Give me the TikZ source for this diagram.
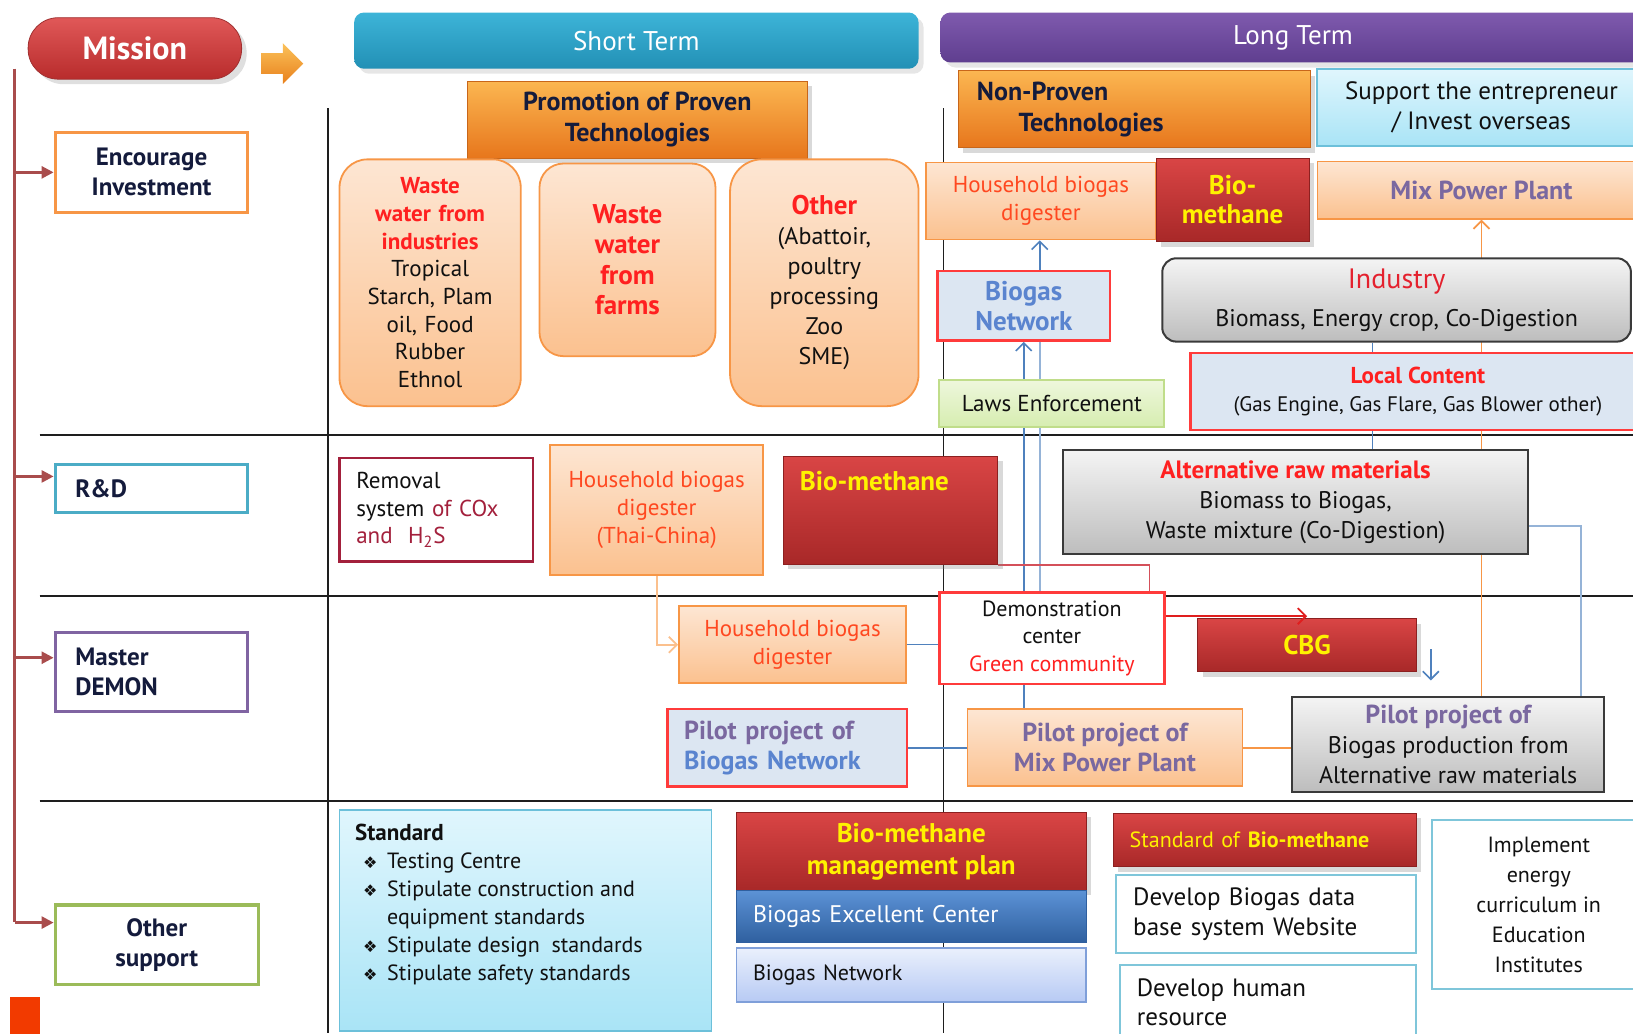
\documentclass[tikz,border=0pt]{standalone}
\usepackage{fontspec}
\setmainfont{PT Sans}
\newfontfamily\dingfont{DejaVu Sans}
\usetikzlibrary{backgrounds,arrows.meta,shapes.arrows,shadows}

\definecolor{pilltop}{HTML}{E05858}
\definecolor{pillbot}{HTML}{B82C2C}
\definecolor{pillline}{HTML}{A03030}
\definecolor{arrtop}{HTML}{FBC25A}
\definecolor{arrbot}{HTML}{E8801C}
\definecolor{tealtop}{HTML}{3DB4D8}
\definecolor{tealbot}{HTML}{2290B5}
\definecolor{purtop}{HTML}{7F5AAE}
\definecolor{purbot}{HTML}{5F3E8F}
\definecolor{hdtop}{HTML}{FBB651}
\definecolor{hdbot}{HTML}{E7761C}
\definecolor{hdline}{HTML}{C8661A}
\definecolor{peachtop}{HTML}{FDE6D3}
\definecolor{peachbot}{HTML}{FBC18F}
\definecolor{peachline}{HTML}{F79646}
\definecolor{redtop}{HTML}{D94545}
\definecolor{redbot}{HTML}{A82828}
\definecolor{redline}{HTML}{8C2020}
\definecolor{graytop}{HTML}{F4F4F4}
\definecolor{graybot}{HTML}{BDBDBD}
\definecolor{grayline}{HTML}{3A3A3A}
\definecolor{netfill}{HTML}{DCE6F2}
\definecolor{netline}{HTML}{FF3B3B}
\definecolor{lawtop}{HTML}{EEF7DC}
\definecolor{lawbot}{HTML}{D6EDB0}
\definecolor{lawline}{HTML}{C0DD8A}
\definecolor{cyantop}{HTML}{E0F6FD}
\definecolor{cyanbot}{HTML}{A9E4F6}
\definecolor{cyanline}{HTML}{6CC0DA}
\definecolor{exctop}{HTML}{5C93D6}
\definecolor{excbot}{HTML}{2F5F9F}
\definecolor{lavtop}{HTML}{EAF0FC}
\definecolor{lavbot}{HTML}{B7CAF4}
\definecolor{lavline}{HTML}{7F9FD9}
\definecolor{lblue}{HTML}{7FC6DA}
\definecolor{txnavy}{HTML}{141B3C}
\definecolor{txdark}{HTML}{101010}
\definecolor{txred}{HTML}{FF2020}
\definecolor{txorg}{HTML}{FF4820}
\definecolor{txpur}{HTML}{7A68A0}
\definecolor{txblu}{HTML}{5A84CF}
\definecolor{txmar}{HTML}{A3203C}
\definecolor{txind}{HTML}{E4212E}
\definecolor{trunkc}{HTML}{A94C4C}
\definecolor{sqred}{HTML}{F23A00}
\definecolor{bluln}{HTML}{4F81BD}
\definecolor{lbluln}{HTML}{95B3D7}
\definecolor{orgln}{HTML}{F79646}
\definecolor{pinkln}{HTML}{D4505A}
\definecolor{redarr}{HTML}{E01E1E}
\definecolor{peachln}{HTML}{FBC08D}
\definecolor{gridc}{HTML}{1E1E1E}
\definecolor{orgbd}{HTML}{F79646}
\definecolor{blubd}{HTML}{4BACC6}
\definecolor{purbd}{HTML}{8064A2}
\definecolor{grnbd}{HTML}{9BBB59}

\begin{document}
\begin{tikzpicture}[x=0.52pt,y=-0.52pt,
  >={Straight Barb[length=4pt,width=8pt]},
  boxat/.style n args={4}{at={({(#1+#3)/2},{(#2+#4)/2})},minimum width={(#3-#1)*0.52pt},minimum height={(#4-#2)*0.52pt}},
  box/.style={inner sep=0pt,align=center,text=txdark,font=\fontsize{11.5}{13.8}\selectfont},
  pill/.style={box,rounded corners=15pt,draw=pillline,top color=pilltop,bottom color=pillbot,text=white,font=\bfseries\fontsize{16}{18}\selectfont,drop shadow={opacity=0.25}},
  bar/.style={box,rounded corners=5pt,text=white,font=\fontsize{13.5}{16}\selectfont,drop shadow={opacity=0.2}},
  leftbox/.style={box,line width=1.6pt,fill=white,text=txnavy,font=\bfseries\fontsize{12.5}{15}\selectfont},
  orangehd/.style={box,draw=hdline,top color=hdtop,bottom color=hdbot,text=txnavy,font=\bfseries\fontsize{13}{15.5}\selectfont,drop shadow={opacity=0.3}},
  peach/.style={box,draw=peachline,line width=0.9pt,top color=peachtop,bottom color=peachbot},
  redbox/.style={box,draw=redline,top color=redtop,bottom color=redbot,text=yellow,font=\bfseries\fontsize{13.5}{16}\selectfont,drop shadow={opacity=0.3}},
  graybox/.style={box,draw=grayline,line width=1pt,top color=graytop,bottom color=graybot,font=\fontsize{12}{15}\selectfont},
  netbox/.style={box,draw=netline,line width=1.2pt,fill=netfill},
  wbox/.style={box,line width=1pt,fill=white},
  trunk/.style={draw=trunkc,line width=1.3pt},
  grid/.style={draw=gridc,line width=0.9pt},
  blu/.style={draw=bluln,line width=0.8pt},
  lblu/.style={draw=lbluln,line width=0.9pt},
  org/.style={draw=orgln,line width=0.9pt}]
\useasboundingbox (0,0) rectangle (1568,992);

% headings
\node[pill, boxat={27}{17}{232}{76}] (mission) {Mission};
\node[single arrow, draw=none, top color=arrtop, bottom color=arrbot, minimum height=21pt, minimum width=20pt, inner xsep=0pt, inner ysep=5pt, single arrow head extend=5pt] (go) at (266,61) {};
\node[bar, top color=tealtop, bottom color=tealbot, boxat={340}{12}{882}{66}] (short) {Short Term};
\node[bar, top color=purtop, bottom color=purbot, boxat={903}{12}{1580}{60}] (long) {Long Term};

% mission column
\node[leftbox, draw=orgbd, boxat={53}{127}{238}{204}] (encourage) {Encourage\\Investment};
\node[leftbox, draw=blubd, boxat={53}{446}{238}{492}, align=left, text width=76pt] (rd) {R\&D};
\node[leftbox, draw=purbd, boxat={53}{607}{238}{683}, align=left, text width=76pt] (master) {Master\\DEMON};
\node[leftbox, draw=grnbd, boxat={53}{869}{248}{945}] (othersup) {Other\\support};
\fill[sqred] (10,957) rectangle (38,995);
\coordinate (trunktop) at (14,66);
\draw[trunk] (trunktop) -- (14,885);
\draw[trunk,-{Triangle[length=6pt,width=6pt]}] (encourage.west -| trunktop) -- (encourage.west);
\draw[trunk,-{Triangle[length=6pt,width=6pt]}] ([yshift=6pt]rd.west -| trunktop) -- ([yshift=6pt]rd.west);
\draw[trunk,-{Triangle[length=6pt,width=6pt]}] ([yshift=7pt]master.west -| trunktop) -- ([yshift=7pt]master.west);
\draw[trunk,-{Triangle[length=6pt,width=6pt]}] ([yshift=11pt]othersup.west -| trunktop) -- ([yshift=11pt]othersup.west);

% short term
\node[orangehd, boxat={449}{78}{775}{152}] (proven) {Promotion of Proven\\Technologies};
\node[peach, rounded corners=14pt, boxat={326}{153}{500}{390}, text width=82pt] (wwind) {\textcolor{txred}{\bfseries Waste\\water from\\industries}\\Tropical\\Starch, Plam\\oil, Food\\Rubber\\Ethnol};
\node[peach, rounded corners=12pt, boxat={518}{157}{687}{342}, text=txred, font=\bfseries\fontsize{13.5}{15.2}\selectfont] (wwfarm) {Waste\\water\\from\\farms};
\node[peach, rounded corners=16pt, boxat={701}{153}{882}{390}, font=\fontsize{12}{15}\selectfont] (otherbio) {\textcolor{txred}{\bfseries\fontsize{13.5}{15}\selectfont Other}\\(Abattoir,\\poultry\\processing\\Zoo\\SME)};

% long term
\node[orangehd, boxat={920}{68}{1258}{142}, align=left, text width=157pt] (nonproven) {Non-Proven\\\hspace*{1.6em}Technologies};
\node[box, draw=cyanline, line width=1pt, top color=cyantop, bottom color=cyanbot, boxat={1265}{66}{1580}{140}, font=\fontsize{12.5}{15}\selectfont] (support) {Support the entrepreneur\\/ Invest overseas};
\node[peach, boxat={889}{156}{1110}{230}, text=txorg] (hhlong) {Household biogas\\digester};
\node[redbox, boxat={1110}{152}{1257}{232}, font=\bfseries\fontsize{13.5}{14.5}\selectfont] (biomlong) {Bio-\\methane};
\node[peach, boxat={1265}{155}{1580}{210}, text=txpur, font=\bfseries\fontsize{13}{15}\selectfont] (mixpp) {Mix Power Plant};
\node[netbox, boxat={900}{260}{1066}{327}, text=txblu, font=\bfseries\fontsize{13.5}{15}\selectfont] (bnet) {Biogas\\Network};
\node[box, draw=lawline, line width=1pt, top color=lawtop, bottom color=lawbot, boxat={902}{365}{1118}{410}] (laws) {Laws Enforcement};
\node[graybox, rounded corners=7pt, boxat={1116}{248}{1566}{328}] (industry) {\textcolor{txind}{\fontsize{14}{18}\selectfont Industry}\\[4pt]Biomass, Energy crop, Co-Digestion};
\node[netbox, boxat={1143}{339}{1580}{413}] (local) {\textcolor{txred}{\bfseries Local Content}\\{\fontsize{10.5}{13}\selectfont (Gas Engine, Gas Flare, Gas Blower other)}};

% R&D
\node[wbox, draw=txmar, line width=1.2pt, boxat={326}{440}{512}{539}, align=left, text width=80pt] (removal) {Removal\\system \textcolor{txmar}{of COx}\\\textcolor{txmar}{and~~H\textsubscript{2}S}};
\node[peach, boxat={528}{427}{733}{552}, text=txorg] (hhthai) {Household biogas\\digester\\(Thai-China)};
\node[redbox, boxat={752}{438}{958}{542}, label={[anchor=north west, xshift=5pt, yshift=-4pt, text=yellow, font=\bfseries\fontsize{13.5}{16}\selectfont]north west:Bio-methane}] (biomrd) {};
\node[graybox, boxat={1021}{432}{1467}{532}] (altraw) {\textcolor{txred}{\bfseries\fontsize{12.5}{15}\selectfont Alternative raw materials}\\Biomass to Biogas,\\Waste mixture (Co-Digestion)};

% Master DEMON
\node[peach, boxat={652}{582}{870}{656}, text=txorg] (hhdemo) {Household biogas\\digester};
\node[wbox, draw=netline, line width=1.2pt, boxat={902}{569}{1118}{657}, font=\fontsize{11}{13.5}\selectfont] (demo) {Demonstration\\center\\\textcolor{txred}{Green community}};
\node[redbox, boxat={1150}{594}{1360}{645}] (cbg) {CBG};
\node[netbox, boxat={641}{681}{871}{755}, align=left, text width=103pt, font=\bfseries\fontsize{13}{15}\selectfont] (pilotnet) {\textcolor{txpur}{Pilot project of}\\\textcolor{txblu}{Biogas Network}};
\node[peach, boxat={929}{681}{1193}{755}, text=txpur, font=\bfseries\fontsize{13}{15}\selectfont] (pilotmix) {Pilot project of\\Mix Power Plant};
\node[graybox, boxat={1241}{669}{1540}{760}] (pilotalt) {\textcolor{txpur}{\bfseries\fontsize{13}{15}\selectfont Pilot project of}\\Biogas production from\\Alternative raw materials};

% Other support
\node[box, draw=cyanline, line width=0.8pt, top color=cyantop, bottom color=cyanbot, boxat={326}{778}{683}{990}] (standard) {};
\node[anchor=north west, align=left, inner sep=0pt, text=txdark, font=\fontsize{11}{14}\selectfont] (stdlist) at ([xshift=8pt,yshift=-7pt]standard.north west) {{\bfseries\fontsize{11.5}{14}\selectfont Standard}\\
\hspace*{4pt}\makebox[12pt][l]{\dingfont\footnotesize ❖}Testing Centre\\
\hspace*{4pt}\makebox[12pt][l]{\dingfont\footnotesize ❖}Stipulate construction and\\
\hspace*{16pt}equipment standards\\
\hspace*{4pt}\makebox[12pt][l]{\dingfont\footnotesize ❖}Stipulate design~ standards\\
\hspace*{4pt}\makebox[12pt][l]{\dingfont\footnotesize ❖}Stipulate safety standards};
\node[redbox, boxat={707}{780}{1043}{855}] (bmplan) {Bio-methane\\management plan};
\node[box, draw=excbot, top color=exctop, bottom color=excbot, text=white, boxat={707}{855}{1043}{905}, align=left, text width=158pt, font=\fontsize{12}{14}\selectfont] (excel) {Biogas Excellent Center};
\node[box, draw=lavline, line width=0.8pt, top color=lavtop, bottom color=lavbot, boxat={707}{910}{1043}{962}, align=left, text width=158pt, font=\fontsize{11}{13}\selectfont] (bnetsup) {Biogas Network};
\node[redbox, boxat={1069}{781}{1360}{832}, align=left, text width=135pt, font=\fontsize{11}{13}\selectfont] (stdbm) {Standard of \textbf{Bio-methane}};
\node[wbox, draw=lblue, boxat={1072}{840}{1360}{915}, align=left, text width=133pt, font=\fontsize{12.5}{15}\selectfont] (dbweb) {Develop Biogas data\\base system Website};
\node[wbox, draw=lblue, boxat={1075}{927}{1360}{998}, align=left, text width=131pt, font=\fontsize{12.5}{14.5}\selectfont] (hr) {Develop human\\resource};
\node[wbox, draw=lblue, boxat={1375}{787}{1580}{950}, font=\fontsize{11}{15}\selectfont] (edu) {Implement\\energy\\curriculum in\\Education\\Institutes};

\begin{scope}[on background layer]
% grid
\draw[grid] (38,418) -- (1568,418);
\draw[grid] (38,572) -- (1568,572);
\draw[grid] (38,769) -- (1568,769);
\draw[grid] (315,104) -- (315,992);
\draw[grid] (906,104) -- (906,992);
% connectors
\draw[blu,->] ([xshift=8pt]bnet.north) -- ([xshift=8pt]bnet.north |- hhlong.south);
\draw[blu,->] (bnet.south |- demo.north) -- (bnet.south);
\draw[lblu] ([xshift=8pt]bnet.south) -- ([xshift=8pt]bnet.south |- demo.north);
\draw[org,->] (mixpp.south |- pilotalt.north) -- (mixpp.south);
\draw[blu] ([xshift=-12pt]industry.south) -- ([xshift=-12pt]industry.south |- altraw.north);
\draw[draw=pinkln,line width=0.9pt] (biomrd.south east) -| ([xshift=-8pt]demo.north east);
\draw[lblu] ([yshift=-12pt]altraw.east) -| ([xshift=-12pt]pilotalt.north east);
\draw[draw=peachln,line width=0.9pt,->] (hhthai.south) |- (hhdemo.west);
\draw[blu] (hhdemo.east) -- (hhdemo.east -| demo.west);
\draw[blu] (bnet.south |- demo.south) -- (bnet.south |- pilotmix.north);
\draw[blu] (pilotnet.east) -- (pilotnet.east -| pilotmix.west);
\draw[org] (pilotmix.east) -- (pilotmix.east -| pilotalt.west);
\draw[blu,->] ([xshift=7pt,yshift=-2pt]cbg.east) -- ++(0,30);
\end{scope}
\draw[draw=redarr,line width=0.9pt,->] ([yshift=1pt]demo.east |- cbg.north) -- ([yshift=1pt]cbg.north);
\end{tikzpicture}
\end{document}
